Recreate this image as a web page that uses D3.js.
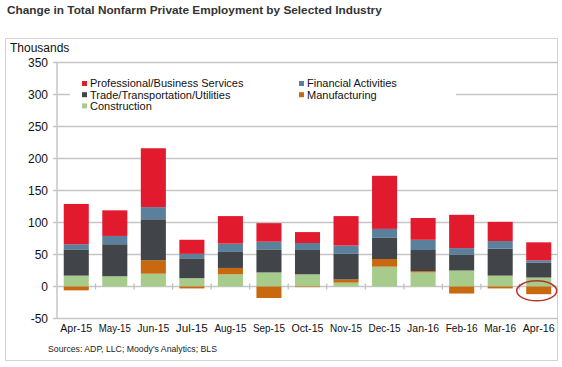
<!DOCTYPE html>
<html>
<head>
<meta charset="utf-8">
<script src="https://cdn.jsdelivr.net/npm/d3@7"></script>
<style>
  body { margin: 0; background: #fff; }
  text { font-family: "Liberation Sans", Arial, sans-serif; }
</style>
</head>
<body>
<svg class="Chart"></svg>
<script>
// months on the x axis
let months = ["Apr-15", "May-15", "Jun-15", "Jul-15", "Aug-15", "Sep-15", "Oct-15",
    "Nov-15", "Dec-15", "Jan-16", "Feb-16", "Mar-16", "Apr-16"];

// change in employment, thousands
let construction  = [17, 16, 20, 13, 19, 22, 19, 6, 31, 22, 25, 17, 14];
let manufacturing = [-6, 0, 21, -3, 10, -18, -1, 5, 12, 2, -11, -3, -12];
let trade         = [41, 50, 64, 31, 25, 36, 38, 40, 33, 33, 25, 42, 23];
let financial     = [8, 13, 19, 7, 13, 12, 11, 13, 14, 16, 10, 12, 4];
let professional  = [63, 40, 92, 22, 43, 29, 17, 46, 83, 34, 52, 30, 28];

let yTicks = [-50, 0, 50, 100, 150, 200, 250, 300, 350];

let series = [
    {key: "Construction", values: construction, color: "#a6cb8b"},
    {key: "Manufacturing", values: manufacturing, color: "#c8690f"},
    {key: "Trade/Transportation/Utilities", values: trade, color: "#414448"},
    {key: "Financial Activities", values: financial, color: "#5a809b"},
    {key: "Professional/Business Services", values: professional, color: "#e21a2e"}
];

function drawChart(){
    let width = 562, height = 367;
    let margin = {top: 62.5, right: 4, bottom: 48.5, left: 57};

    let svg = d3.select(".Chart")
        .attr("width", width)
        .attr("height", height);

    // title and outer frame
    svg.append("text")
        .attr("x", 7).attr("y", 14)
        .attr("font-size", 11.8)
        .attr("font-weight", "bold")
        .attr("fill", "#333")
        .text("Change in Total Nonfarm Private Employment by Selected Industry");

    svg.append("rect")
        .attr("x", 5.5).attr("y", 38.5)
        .attr("width", 552).attr("height", 322)
        .attr("fill", "none")
        .attr("stroke", "#d4d4d4");

    svg.append("text")
        .attr("x", 10).attr("y", 52)
        .attr("font-size", 12)
        .attr("fill", "#111")
        .text("Thousands");

    let x = d3.scaleBand()
        .domain(months)
        .range([margin.left, width - margin.right])
        .paddingInner(0.35)
        .paddingOuter(0.175);

    let y = d3.scaleLinear()
        .domain([-50, 350])
        .range([height - margin.bottom, margin.top]);

    // gridlines
    svg.append("g")
        .selectAll("line")
        .data(yTicks)
        .join("line")
        .attr("x1", margin.left - 4)
        .attr("x2", width - margin.right)
        .attr("y1", d => y(d))
        .attr("y2", d => y(d))
        .attr("stroke", "#c6c6c6")
        .attr("stroke-width", 1.5);

    svg.append("line")
        .attr("x1", margin.left).attr("x2", margin.left)
        .attr("y1", y(350)).attr("y2", y(-50))
        .attr("stroke", "#c6c6c6")
        .attr("stroke-width", 1.5);

    // y tick labels
    svg.append("g")
        .selectAll("text")
        .data(yTicks)
        .join("text")
        .attr("x", 48)
        .attr("y", d => y(d))
        .attr("dy", "0.36em")
        .attr("text-anchor", "end")
        .attr("font-size", 12)
        .attr("fill", "#111")
        .text(d => d);

    // stacked bars, negatives go below zero
    let table = months.map((m, i) => {
        let row = {month: m};
        series.forEach(s => row[s.key] = s.values[i]);
        return row;
    });
    let stacked = d3.stack()
        .keys(series.map(s => s.key))
        .offset(d3.stackOffsetDiverging)(table);

    svg.append("g")
        .selectAll("g")
        .data(stacked)
        .join("g")
        .attr("fill", (d, i) => series[i].color)
        .selectAll("rect")
        .data(d => d)
        .join("rect")
        .attr("x", d => x(d.data.month))
        .attr("width", x.bandwidth())
        .attr("y", d => y(Math.max(d[0], d[1])))
        .attr("height", d => Math.abs(y(d[0]) - y(d[1])));

    // small separators on the zero line, between the bands
    let gap = (x.step() - x.bandwidth()) / 2;
    svg.append("g")
        .selectAll("line")
        .data(months.slice(1))
        .join("line")
        .attr("x1", d => x(d) - gap)
        .attr("x2", d => x(d) - gap)
        .attr("y1", y(0) - 3)
        .attr("y2", y(0) + 3)
        .attr("stroke", "#bdbdbd")
        .attr("stroke-width", 1.2);

    // x labels
    svg.append("g")
        .selectAll("text")
        .data(months)
        .join("text")
        .attr("x", d => x(d) + x.bandwidth() / 2)
        .attr("y", 332)
        .attr("text-anchor", "middle")
        .attr("font-size", 11.5)
        .attr("fill", "#111")
        .attr("textLength", 32)
        .attr("lengthAdjust", "spacingAndGlyphs")
        .text(d => d);

    // legend box hides the gridline behind it
    let legend = svg.append("g");
    legend.append("rect")
        .attr("x", 70).attr("y", 70)
        .attr("width", 386).attr("height", 46)
        .attr("fill", "#fff");

    let legendPos = [
        {key: "Professional/Business Services", col: 0, row: 0},
        {key: "Financial Activities", col: 1, row: 0},
        {key: "Trade/Transportation/Utilities", col: 0, row: 1},
        {key: "Manufacturing", col: 1, row: 1},
        {key: "Construction", col: 0, row: 2}
    ];
    let colX = [82, 299];
    let item = legend.selectAll("g")
        .data(legendPos)
        .join("g")
        .attr("transform", d => `translate(${colX[d.col]},${83.5 + d.row * 11.2})`);
    item.append("rect")
        .attr("x", 0).attr("y", -2.5)
        .attr("width", 5).attr("height", 5)
        .attr("fill", d => series.find(s => s.key === d.key).color);
    item.append("text")
        .attr("x", 8)
        .attr("dy", "0.36em")
        .attr("font-size", 11)
        .attr("fill", "#111")
        .text(d => d.key);

    // highlight circle around the last month's manufacturing drop
    let last = months[months.length - 1];
    svg.append("ellipse")
        .attr("cx", x(last) + x.bandwidth() / 2 - 2)
        .attr("cy", y(manufacturing[months.length - 1] / 2) + 0.5)
        .attr("rx", 20)
        .attr("ry", 10)
        .attr("fill", "none")
        .attr("stroke", "#b5322f")
        .attr("stroke-width", 1.5);

    svg.append("text")
        .attr("x", 48).attr("y", 352)
        .attr("font-size", 9)
        .attr("fill", "#222")
        .attr("textLength", 169)
        .attr("lengthAdjust", "spacingAndGlyphs")
        .text("Sources: ADP, LLC; Moody's Analytics; BLS");
}

drawChart();
</script>
</body>
</html>
